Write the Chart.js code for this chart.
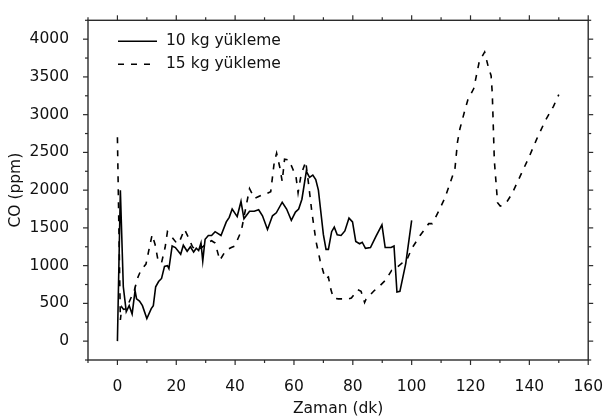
<!DOCTYPE html>
<html>
<head>
<meta charset="utf-8">
<script src="https://cdn.jsdelivr.net/npm/chart.js@4.4.1/dist/chart.umd.min.js"></script>
<style>
  html, body { margin: 0; padding: 0; background: #fff; }
</style>
</head>
<body>
<canvas id="coChart" width="613" height="420"></canvas>
<script>
// CO concentration vs time for two loadings (10 kg / 15 kg)

const SERIES_NAMES = ['10 kg yükleme', '15 kg yükleme'];

// 10 kg loading: time (min) and CO (ppm)
const time10 = [0, 1, 2, 3, 4, 5, 6, 6.5, 7.5, 8.5, 10, 11.5, 12.2, 13, 14, 15, 16, 17, 17.5, 18.6,
  19.7, 21.5, 22.4, 23.7, 24.8, 25.9, 26.8, 27.6, 28.4, 29, 29.8, 30.9, 32, 33.2, 35.2, 37, 38, 39, 40.7, 42,
  43, 44.9, 46.5, 48, 49.3, 51, 52.7, 54, 56, 57.5, 59.1, 60.5, 61.6, 62.7, 64.2, 65.3, 66.4, 67.4, 68.3, 70,
  70.9, 71.7, 72.8, 73.7, 74.7, 76, 77.3, 78.7, 79.9, 81, 82.3, 83.2, 84.3, 86, 87.9, 89.9, 91, 93, 94, 95,
  96, 98, 100];
const co10 = [0, 2000, 720, 390, 470, 360, 670, 560, 530, 470, 300, 430, 470, 720, 790, 830, 990, 1000, 960, 1260,
  1240, 1150, 1270, 1190, 1250, 1180, 1230, 1200, 1300, 1060, 1350, 1400, 1400, 1450, 1400, 1580, 1640, 1750, 1650, 1850,
  1620, 1720, 1720, 1740, 1660, 1480, 1660, 1700, 1840, 1750, 1600, 1710, 1750, 1880, 2250, 2170, 2200, 2140, 2000, 1410,
  1215, 1215, 1450, 1510, 1410, 1400, 1460, 1630, 1580, 1320, 1290, 1310, 1230, 1240, 1390, 1540, 1240, 1240, 1260, 650,
  660, 1030, 1600];

// 15 kg loading: time (min) and CO (ppm)
const time15 = [0, 1, 1.5, 2.1, 3, 5.8, 7, 8, 9.7, 10.6, 11.8, 12.8, 13.9, 15, 16.2, 17, 18.1, 20.3, 21.2, 22.8,
  24.3, 25.5, 27, 29, 30.5, 32, 33.2, 34.8, 36.8, 38.7, 39.9, 42.1, 43.8, 44.9, 46.6, 49.3, 50.5, 52.1, 53.3, 54.1,
  55.2, 56, 56.8, 58.3, 59.6, 60.7, 61.4, 62.4, 64, 65, 66.1, 67.5, 68.9, 70.6, 71.7, 72.5, 73.4, 75, 78.4, 79.5,
  81.7, 82.8, 84, 84.5, 87.3, 89, 91.2, 93.2, 94, 96.8, 98.2, 100, 102.8, 105.8, 107, 109.1, 111.3, 113, 114.7, 115.6,
  116.4, 118, 119.1, 121.1, 123, 124.8, 126.1, 127, 127.4, 128.1, 129.2, 130.1, 131, 132.5, 134.2, 137, 139.8, 142.6, 145.4, 148.2,
  150];
const co15 = [2700, 280, 450, 420, 430, 680, 850, 940, 1020, 1190, 1410, 1280, 1050, 1040, 1240, 1450, 1400, 1290, 1330, 1480,
  1360, 1250, 1200, 1250, 1300, 1330, 1300, 1070, 1200, 1240, 1260, 1460, 1800, 2020, 1890, 1940, 1950, 1980, 2370, 2490,
  2300, 2115, 2410, 2400, 2280, 2175, 1965, 2200, 2380, 2070, 1705, 1320, 1065, 830, 850, 690, 570, 560, 558, 570,
  680, 660, 512, 555, 670, 725, 810, 937, 946, 1035, 1060, 1225, 1395, 1556, 1556, 1715, 1896, 2088, 2280, 2643,
  2813, 3047, 3197, 3346, 3708, 3830, 3623, 3517, 3280, 2390, 1833, 1790, 1800, 1854, 1960, 2196, 2430, 2685, 2919, 3111,
  3265];

const X_TICKS = [0, 20, 40, 60, 80, 100, 120, 140, 160];
const Y_TICKS = [0, 500, 1000, 1500, 2000, 2500, 3000, 3500, 4000];

const FONT = 'DejaVu Sans, Arial, sans-serif';
const AXIS_COLOR = '#2b2b2b';

const toPoints = (xs, ys) => xs.map((x, i) => ({ x: x, y: ys[i] }));

// Frame on all four sides with Origin-style outward ticks (major + minor)
const frameTicks = {
  id: 'frameTicks',
  afterDraw(chart) {
    const { ctx, chartArea: a, scales: { x, y } } = chart;
    ctx.save();
    ctx.strokeStyle = AXIS_COLOR;
    ctx.lineWidth = 1.4;
    ctx.strokeRect(a.left, a.top, a.right - a.left, a.bottom - a.top);
    ctx.lineWidth = 1.2;
    const seg = (x1, y1, x2, y2) => { ctx.beginPath(); ctx.moveTo(x1, y1); ctx.lineTo(x2, y2); ctx.stroke(); };
    for (let v = x.min; v <= x.max; v += 10) {
      const px = x.getPixelForValue(v);
      const len = X_TICKS.includes(v) ? 5 : 3;
      seg(px, a.bottom, px, a.bottom + len);
      seg(px, a.top, px, a.top - len);
    }
    for (let v = y.min; v <= y.max; v += 250) {
      const py = y.getPixelForValue(v);
      const len = Y_TICKS.includes(v) ? 5 : 3;
      seg(a.left, py, a.left - len, py);
      seg(a.right, py, a.right + len, py);
    }
    ctx.restore();
  }
};

// Legend drawn inside the plot, top-left
const insideLegend = {
  id: 'insideLegend',
  afterDraw(chart) {
    const { ctx, chartArea: a } = chart;
    ctx.save();
    ctx.font = '15.5px ' + FONT;
    ctx.textBaseline = 'middle';
    ctx.fillStyle = '#111';
    chart.data.datasets.forEach((ds, i) => {
      const yy = a.top + 21 + i * 23;
      const x0 = a.left + 30;
      ctx.strokeStyle = ds.borderColor;
      ctx.lineWidth = ds.borderWidth;
      ctx.setLineDash(ds.borderDash || []);
      ctx.beginPath();
      ctx.moveTo(x0, yy);
      ctx.lineTo(x0 + 39, yy);
      ctx.stroke();
      ctx.setLineDash([]);
      ctx.fillText(ds.label, x0 + 48, yy);
    });
    ctx.restore();
  }
};

new Chart(document.getElementById('coChart'), {
  type: 'line',
  data: {
    datasets: [
      {
        label: SERIES_NAMES[0],
        data: toPoints(time10, co10),
        borderColor: '#000',
        borderWidth: 1.6,
        pointRadius: 0,
        tension: 0,
        fill: false
      },
      {
        label: SERIES_NAMES[1],
        data: toPoints(time15, co15),
        borderColor: '#000',
        borderWidth: 1.6,
        borderDash: [6, 7],
        pointRadius: 0,
        tension: 0,
        fill: false
      }
    ]
  },
  options: {
    responsive: false,
    animation: false,
    layout: { padding: { top: 7, right: 18, bottom: 0, left: 0 } },
    plugins: { legend: { display: false }, tooltip: { enabled: false } },
    scales: {
      x: {
        type: 'linear',
        min: -10,
        max: 160,
        afterBuildTicks: (s) => { s.ticks = X_TICKS.map(v => ({ value: v })); },
        afterFit: (s) => { s.height = 60; },
        grid: { display: false },
        border: { display: false },
        ticks: { color: '#111', font: { family: FONT, size: 15.5 }, padding: 10, maxRotation: 0, callback: (v) => String(v) },
        title: { display: true, text: 'Zaman (dk)', color: '#111', font: { family: FONT, size: 15.5 }, padding: { top: 0, bottom: 2 } }
      },
      y: {
        type: 'linear',
        min: -250,
        max: 4250,
        afterBuildTicks: (s) => { s.ticks = Y_TICKS.map(v => ({ value: v })); },
        afterFit: (s) => { s.width = 88; },
        grid: { display: false },
        border: { display: false },
        ticks: { color: '#111', font: { family: FONT, size: 15.5 }, padding: 11, callback: (v) => String(v) },
        title: { display: true, text: 'CO (ppm)', color: '#111', font: { family: FONT, size: 15.5 }, padding: { top: 7, bottom: 0 } }
      }
    }
  },
  plugins: [frameTicks, insideLegend]
});
</script>
</body>
</html>
